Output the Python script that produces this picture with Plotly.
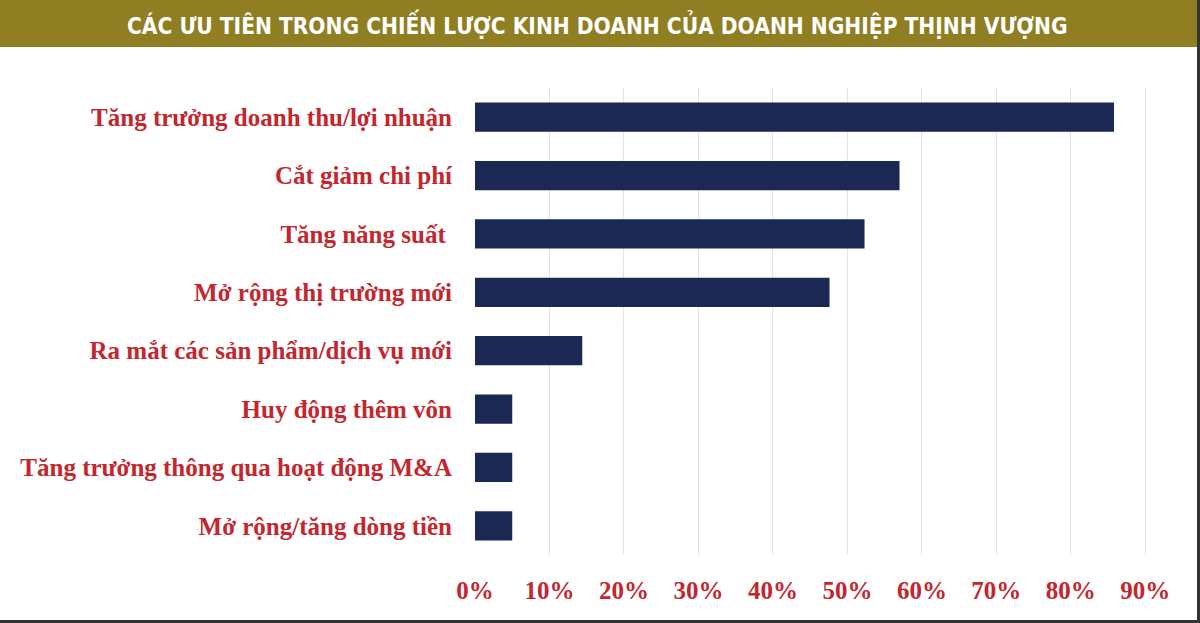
import plotly.graph_objects as go

# Dữ liệu
categories = [
    "Tăng trưởng doanh thu/lợi nhuận",
    "Cắt giảm chi phí",
    "Tăng năng suất ",
    "Mở rộng thị trường mới",
    "Ra mắt các sản phẩm/dịch vụ mới",
    "Huy động thêm vôn",
    "Tăng trưởng thông qua hoạt động M&A",
    "Mở rộng/tăng dòng tiền",
]
values = [0.858, 0.57, 0.523, 0.476, 0.144, 0.05, 0.05, 0.05]
tick_vals = [0, 0.1, 0.2, 0.3, 0.4, 0.5, 0.6, 0.7, 0.8, 0.9]
tick_text = ["0%", "10%", "20%", "30%", "40%", "50%", "60%", "70%", "80%", "90%"]
title_text = "CÁC ƯU TIÊN TRONG CHIẾN LƯỢC KINH DOANH CỦA DOANH NGHIỆP THỊNH VƯỢNG"

W, H = 1200, 623
L, R, T, B = 475, 10, 88, 68
red = "#C4262E"
navy = "#1B2853"
olive = "#8F7E22"

# pixel -> paper
def px(x):
    return (x - L) / (W - L - R)

def py(y):
    return (H - B - y) / (H - T - B)

fig = go.Figure()
fig.add_trace(go.Bar(
    x=values, y=categories, orientation="h",
    marker=dict(color=navy, line=dict(width=0)),
    hovertemplate="%{y}: %{x:.0%}<extra></extra>",
))

lab_font = dict(size=25, color=red, family="Liberation Serif", weight="bold")

fig.update_layout(
    width=W, height=H,
    margin=dict(l=L, r=R, t=T, b=B),
    paper_bgcolor="white", plot_bgcolor="white",
    bargap=0.5, showlegend=False,
    font=dict(family="Liberation Serif, Times New Roman, serif"),
)
fig.update_xaxes(
    range=[0, 0.96], tickvals=tick_vals, ticktext=tick_text,
    showgrid=True, gridcolor="#E3E3E3", gridwidth=1,
    zeroline=False, showline=False,
    tickfont=lab_font,
    ticks="outside", ticklen=0, ticklabelstandoff=13,
)
fig.update_yaxes(
    autorange="reversed", showgrid=False, zeroline=False, showline=False,
    tickfont=lab_font,
    ticks="outside", ticklen=0, ticklabelstandoff=17,
)

# thanh tiêu đề
fig.add_shape(type="rect", xref="paper", yref="paper",
              x0=px(0), x1=px(1197), y0=py(47), y1=py(0),
              fillcolor=olive, line=dict(width=0), layer="below")
fig.add_annotation(xref="paper", yref="paper", x=px(597), y=py(24),
                   text=title_text, showarrow=False,
                   xanchor="center", yanchor="middle",
                   font=dict(size=22.5, color="white", weight="bold",
                             family="DejaVu Sans Condensed, DejaVu Sans, sans-serif"))

# khung viền phải và dưới
fig.add_shape(type="line", xref="paper", yref="paper",
              x0=px(1198.5), x1=px(1198.5), y0=py(623), y1=py(0),
              line=dict(color="#333333", width=3))
fig.add_shape(type="line", xref="paper", yref="paper",
              x0=px(0), x1=px(1200), y0=py(621.5), y1=py(621.5),
              line=dict(color="#333333", width=3))

fig.write_html("out.html", config={"displayModeBar": False},
               post_script="document.body.style.margin='0';")
